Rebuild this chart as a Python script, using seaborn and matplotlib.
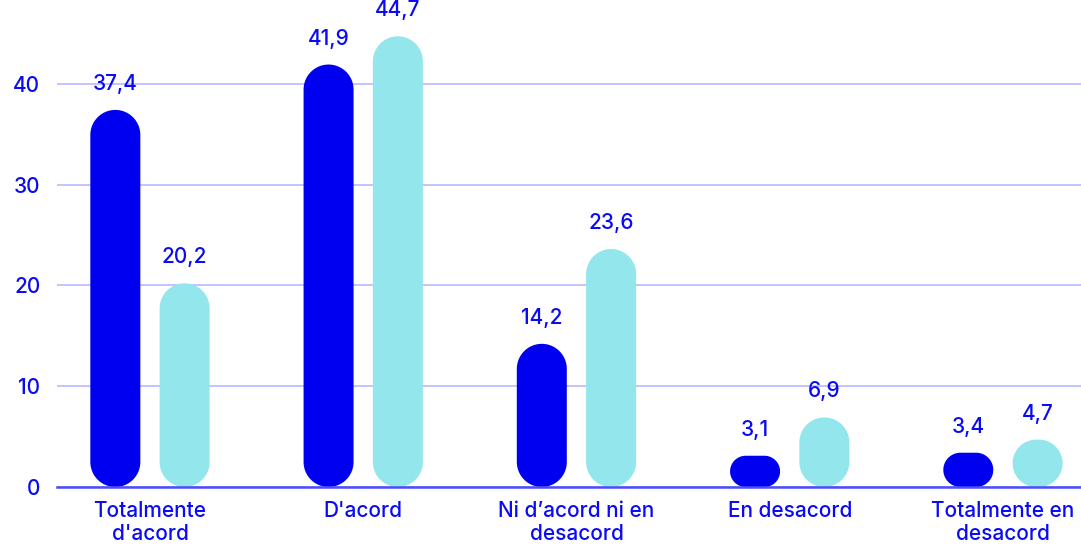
import matplotlib

matplotlib.use("Agg")
import matplotlib.pyplot as plt
import numpy as np
import pandas as pd
import seaborn as sns
from matplotlib.patches import Polygon

categories = [
    "Totalmente\nd'acord",
    "D'acord",
    "Ni d’acord ni en\ndesacord",
    "En desacord",
    "Totalmente en\ndesacord",
]
series_names = ["Sèrie 1", "Sèrie 2"]
values_1 = [37.4, 41.9, 14.2, 3.1, 3.4]
values_2 = [20.2, 44.7, 23.6, 6.9, 4.7]

DARK = "#0000F0"
LIGHT = "#92E6EC"
TEXT = "#0A0AF5"
GRID = "#B9B9FF"


def pill(cx, w, h, rx, ry, n=24):
    # rounded rectangle with elliptical corners (circular on screen)
    pts = []
    corners = [
        (cx + w / 2 - rx, h - ry, 0.0),
        (cx - w / 2 + rx, h - ry, 0.5 * np.pi),
        (cx - w / 2 + rx, ry, np.pi),
        (cx + w / 2 - rx, ry, 1.5 * np.pi),
    ]
    for x0, y0, a0 in corners:
        t = np.linspace(a0, a0 + 0.5 * np.pi, n)
        pts.extend(zip(x0 + rx * np.cos(t), y0 + ry * np.sin(t)))
    return np.array(pts)


def main() -> None:
    df = pd.DataFrame(
        {
            "category": categories * 2,
            "serie": [series_names[0]] * len(categories) + [series_names[1]] * len(categories),
            "value": values_1 + values_2,
        }
    )

    sns.set_theme(style="white")
    plt.rcParams["font.family"] = ["Inter", "DejaVu Sans"]

    fig = plt.figure(figsize=(10.81, 5.49), dpi=100)
    ax = fig.add_axes([57 / 1081, 62 / 549, 1024 / 1081, 487 / 549])

    sns.barplot(
        data=df, x="category", y="value", hue="serie",
        palette=[DARK, LIGHT], width=0.65, saturation=1, ax=ax, legend=False,
    )

    ax.set_xlim(-0.436, 4.366)
    ax.set_ylim(0, 48.3)

    # swap the square bars for pill shaped ones
    px_x = ax.transData.transform((1, 0))[0] - ax.transData.transform((0, 0))[0]
    px_y = ax.transData.transform((0, 1))[1] - ax.transData.transform((0, 0))[1]
    bar_px = 50
    for container in ax.containers:
        for bar in container:
            cx = bar.get_x() + bar.get_width() / 2
            h = bar.get_height()
            color = bar.get_facecolor()
            bar.set_visible(False)
            r_px = min(bar_px / 2, h * px_y / 2)
            shape = pill(cx, bar_px / px_x, h, r_px / px_x, r_px / px_y)
            ax.add_patch(Polygon(shape, closed=True, facecolor=color,
                                 edgecolor="none", zorder=3))
            ax.annotate(
                f"{h:.1f}".replace(".", ","), (cx, h),
                xytext=(0, 16), textcoords="offset pixels",
                ha="center", va="bottom", fontsize=15, fontweight="medium",
                color=TEXT,
            )

    ax.set_yticks([0, 10, 20, 30, 40])
    ax.yaxis.grid(True, color=GRID, linewidth=1.2)
    ax.set_axisbelow(True)
    ax.tick_params(axis="both", length=0, labelsize=15, labelcolor=TEXT)
    ax.tick_params(axis="y", pad=12)
    ax.tick_params(axis="x", pad=10)
    for lbl in ax.get_xticklabels() + ax.get_yticklabels():
        lbl.set_fontweight("medium")
    ax.set_xlabel("")
    ax.set_ylabel("")
    for side in ["left", "right", "top"]:
        ax.spines[side].set_visible(False)
    ax.spines["bottom"].set_color("#4B4BFF")
    ax.spines["bottom"].set_linewidth(1.8)
    ax.spines["bottom"].set_zorder(4)

    fig.savefig("out.png", dpi=100)
    plt.close(fig)


if __name__ == "__main__":
    main()
